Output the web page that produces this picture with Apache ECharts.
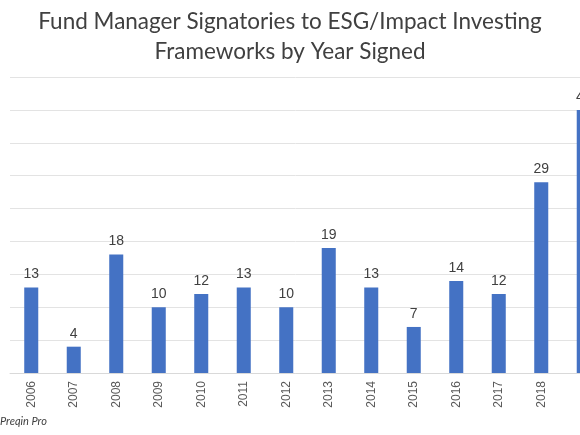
<!DOCTYPE html>
<html>
<head>
<meta charset="utf-8">
<script src="https://cdn.jsdelivr.net/npm/echarts@6/dist/echarts.min.js"></script>
<style>
  html, body { margin: 0; padding: 0; background: #fff; }
  #chart { width: 580px; height: 435px; }
</style>
</head>
<body>
<div id="chart"></div>
<script>
// 数据
var years = ['2006', '2007', '2008', '2009', '2010', '2011', '2012',
             '2013', '2014', '2015', '2016', '2017', '2018', '2019'];
var signatories = [13, 4, 18, 10, 12, 13, 10, 19, 13, 7, 14, 12, 29, 40];

var myChart = echarts.init(document.getElementById('chart'));
var option = {
    animation: false,
    title: {
        text: 'Fund Manager Signatories to ESG/Impact Investing\nFrameworks by Year Signed',
        left: 'center',
        top: 2,
        textStyle: {
            fontFamily: 'Lato',
            fontWeight: 'normal',
            fontSize: 22.5,
            lineHeight: 30,
            color: '#404040'
        }
    },
    graphic: [{
        type: 'text',
        left: 0,
        top: 416,
        style: {
            text: 'Preqin Pro',
            font: 'italic 11px Lato',
            fill: '#404040'
        }
    }],
    // 图表右侧被裁切，网格宽度超出画布
    grid: {
        left: 10,
        width: 595,
        top: 77,
        bottom: 62,
        outerBoundsMode: 'none'
    },
    xAxis: {
        type: 'category',
        data: years,
        axisTick: { show: false },
        axisLine: { lineStyle: { color: '#d9d9d9' } },
        axisLabel: {
            rotate: 90,
            margin: 8,
            showMaxLabel: false,
            fontFamily: 'Liberation Sans',
            fontSize: 12,
            color: '#595959'
        }
    },
    yAxis: {
        type: 'value',
        min: 0,
        max: 45,
        interval: 5,
        axisLabel: { show: false },
        axisLine: { show: false },
        axisTick: { show: false },
        splitLine: { lineStyle: { color: '#e3e3e3', width: 1 } }
    },
    series: [{
        type: 'bar',
        data: signatories,
        barWidth: '33%',
        itemStyle: { color: '#4472C4' },
        label: {
            show: true,
            position: 'top',
            distance: 6,
            fontFamily: 'Liberation Sans',
            fontSize: 14,
            color: '#404040'
        }
    }]
};
myChart.setOption(option);
</script>
</body>
</html>
